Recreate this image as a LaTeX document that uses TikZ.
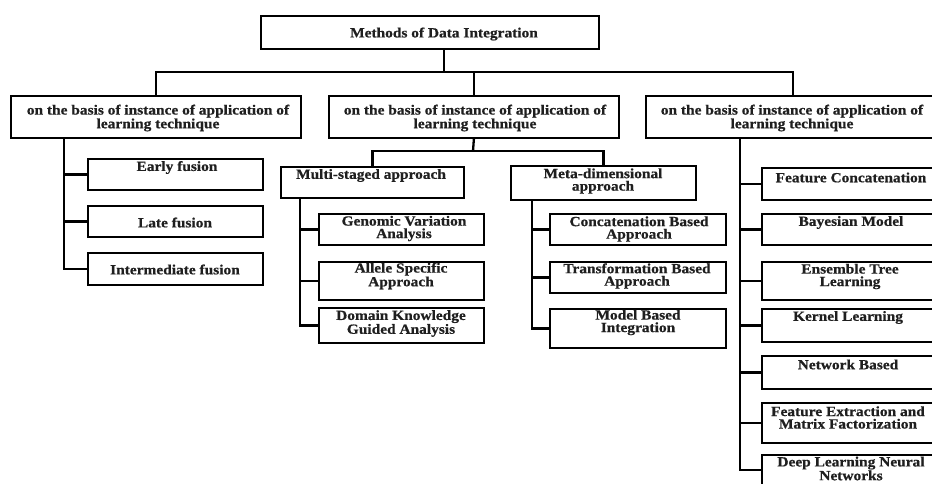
\documentclass[tikz,border=0pt]{standalone}
\usepackage{fontspec}
\setmainfont{Liberation Serif}[FakeStretch=1.1,BoldFeatures={FakeBold=0.6}]
\usetikzlibrary{calc}
\begin{document}
\begin{tikzpicture}[x=1pt,y=-1pt,
  bbox/.style={draw=black,line width=1.8pt,fill=none,inner sep=0pt,anchor=north west},
  lbl/.style={inner sep=0pt,align=center,yshift=-2.5pt,font=\bfseries\fontsize{14}{12.5}\selectfont,text=black!88},
  conn/.style={draw=black,line width=2.3pt}]
\useasboundingbox (0,0) rectangle (932,483);
\clip (0,0) rectangle (932,483);
\fill[white] (0,0) rectangle (932,483);
% boxes
\node[bbox,minimum width=338pt,minimum height=33pt] (top) at (260,15) {};
\node[bbox,minimum width=290pt,minimum height=42pt] (L) at (10,95) {};
\node[bbox,minimum width=290pt,minimum height=42pt] (M) at (328,95) {};
\node[bbox,minimum width=294pt,minimum height=42pt] (R) at (645,95) {};
\node[bbox,minimum width=183pt,minimum height=31pt] (MS) at (280,166) {};
\node[bbox,minimum width=185pt,minimum height=34pt] (MD) at (510,165) {};
\node[bbox,minimum width=165pt,minimum height=31pt] (G1) at (318,213) {};
\node[bbox,minimum width=165pt,minimum height=38pt] (G2) at (318,261) {};
\node[bbox,minimum width=165pt,minimum height=35pt] (G3) at (318,307) {};
\node[bbox,minimum width=176pt,minimum height=31pt] (C1) at (549,213) {};
\node[bbox,minimum width=176pt,minimum height=31pt] (C2) at (549,261) {};
\node[bbox,minimum width=176pt,minimum height=39pt] (C3) at (549,308) {};
\node[bbox,minimum width=175pt,minimum height=31pt] (E1) at (87,158) {};
\node[bbox,minimum width=175pt,minimum height=31pt] (E2) at (87,205) {};
\node[bbox,minimum width=175pt,minimum height=32pt] (E3) at (87,252) {};
\node[bbox,minimum width=178pt,minimum height=32pt] (F1) at (761,167) {};
\node[bbox,minimum width=178pt,minimum height=31pt] (F2) at (761,213) {};
\node[bbox,minimum width=178pt,minimum height=38pt] (F3) at (761,261) {};
\node[bbox,minimum width=178pt,minimum height=33pt] (F4) at (761,308) {};
\node[bbox,minimum width=178pt,minimum height=33pt] (F5) at (761,355) {};
\node[bbox,minimum width=178pt,minimum height=40pt] (F6) at (761,402) {};
\node[bbox,minimum width=178pt,minimum height=41pt] (F7) at (761,454) {};
% texts
\node[lbl] (tTop) at (444,31.5) {Methods of Data Integration};
\node[lbl] (tL) at (158,115.5) {on the basis of instance of application of\\learning technique};
\node[lbl] (tM) at (475,115.5) {on the basis of instance of application of\\learning technique};
\node[lbl] (tR) at (792,115.5) {on the basis of instance of application of\\learning technique};
\node[lbl] (tMS) at (371,173) {Multi-staged approach};
\node[lbl] (tMD) at (603,178.5) {Meta-dimensional\\approach};
\node[lbl] (tG1) at (404,226) {Genomic Variation\\Analysis};
\node[lbl] (tG2) at (401,273.5) {Allele Specific\\Approach};
\node[lbl] (tG3) at (401,321) {Domain Knowledge\\Guided Analysis};
\node[lbl] (tC1) at (639,226.5) {Concatenation Based\\Approach};
\node[lbl] (tC2) at (637,273.5) {Transformation Based\\Approach};
\node[lbl] (tC3) at (638,320) {Model Based\\Integration};
\node[lbl] (tE1) at (177,165) {Early fusion};
\node[lbl] (tE2) at (175,220) {Late fusion};
\node[lbl] (tE3) at (175,267) {Intermediate fusion};
\node[lbl] (tF1) at (851,175) {Feature Concatenation};
\node[lbl] (tF2) at (851,220) {Bayesian Model};
\node[lbl] (tF3) at (850,274) {Ensemble Tree\\Learning};
\node[lbl] (tF4) at (848,315) {Kernel Learning};
\node[lbl] (tF5) at (848,362) {Network Based};
\node[lbl] (tF6) at (848,415) {Feature Extraction and\\Matrix Factorization};
\node[lbl] (tF7) at (851,466) {Deep Learning Neural\\Networks};
% connectors
\coordinate (bus1) at (444,72);
\coordinate (bus2) at (473,151);
\coordinate (tl) at (64,137);
\coordinate (tms) at (300,197);
\coordinate (tmd) at (532,199);
\coordinate (tr) at (740,137);
\draw[conn] (top.south -| bus1) -- (bus1);
\draw[conn] (L.north) |- (bus1) -| (R.north);
\draw[conn] (M.north) -- (M.north |- bus1);
\draw[conn] (M.south) -- (bus2);
\draw[conn] (MS.north) |- (bus2) -| (MD.north);
\draw[conn] (tl) |- (E3.west);
\draw[conn] (tl |- E1.west) -- (E1.west);
\draw[conn] (tl |- E2.west) -- (E2.west);
\draw[conn] (tms) |- (G3.west);
\draw[conn] (tms |- G1.west) -- (G1.west);
\draw[conn] (tms |- G2.west) -- (G2.west);
\draw[conn] (tmd) |- (C3.west);
\draw[conn] (tmd |- C1.west) -- (C1.west);
\draw[conn] (tmd |- C2.west) -- (C2.west);
\draw[conn] (tr) |- ($(F7.north west)+(0,16)$);
\draw[conn] (tr |- F1.west) -- (F1.west);
\draw[conn] (tr |- F2.west) -- (F2.west);
\draw[conn] (tr |- F3.west) -- (F3.west);
\draw[conn] (tr |- F4.west) -- (F4.west);
\draw[conn] (tr |- F5.west) -- (F5.west);
\draw[conn] (tr |- F6.west) -- (F6.west);
\end{tikzpicture}
\end{document}
